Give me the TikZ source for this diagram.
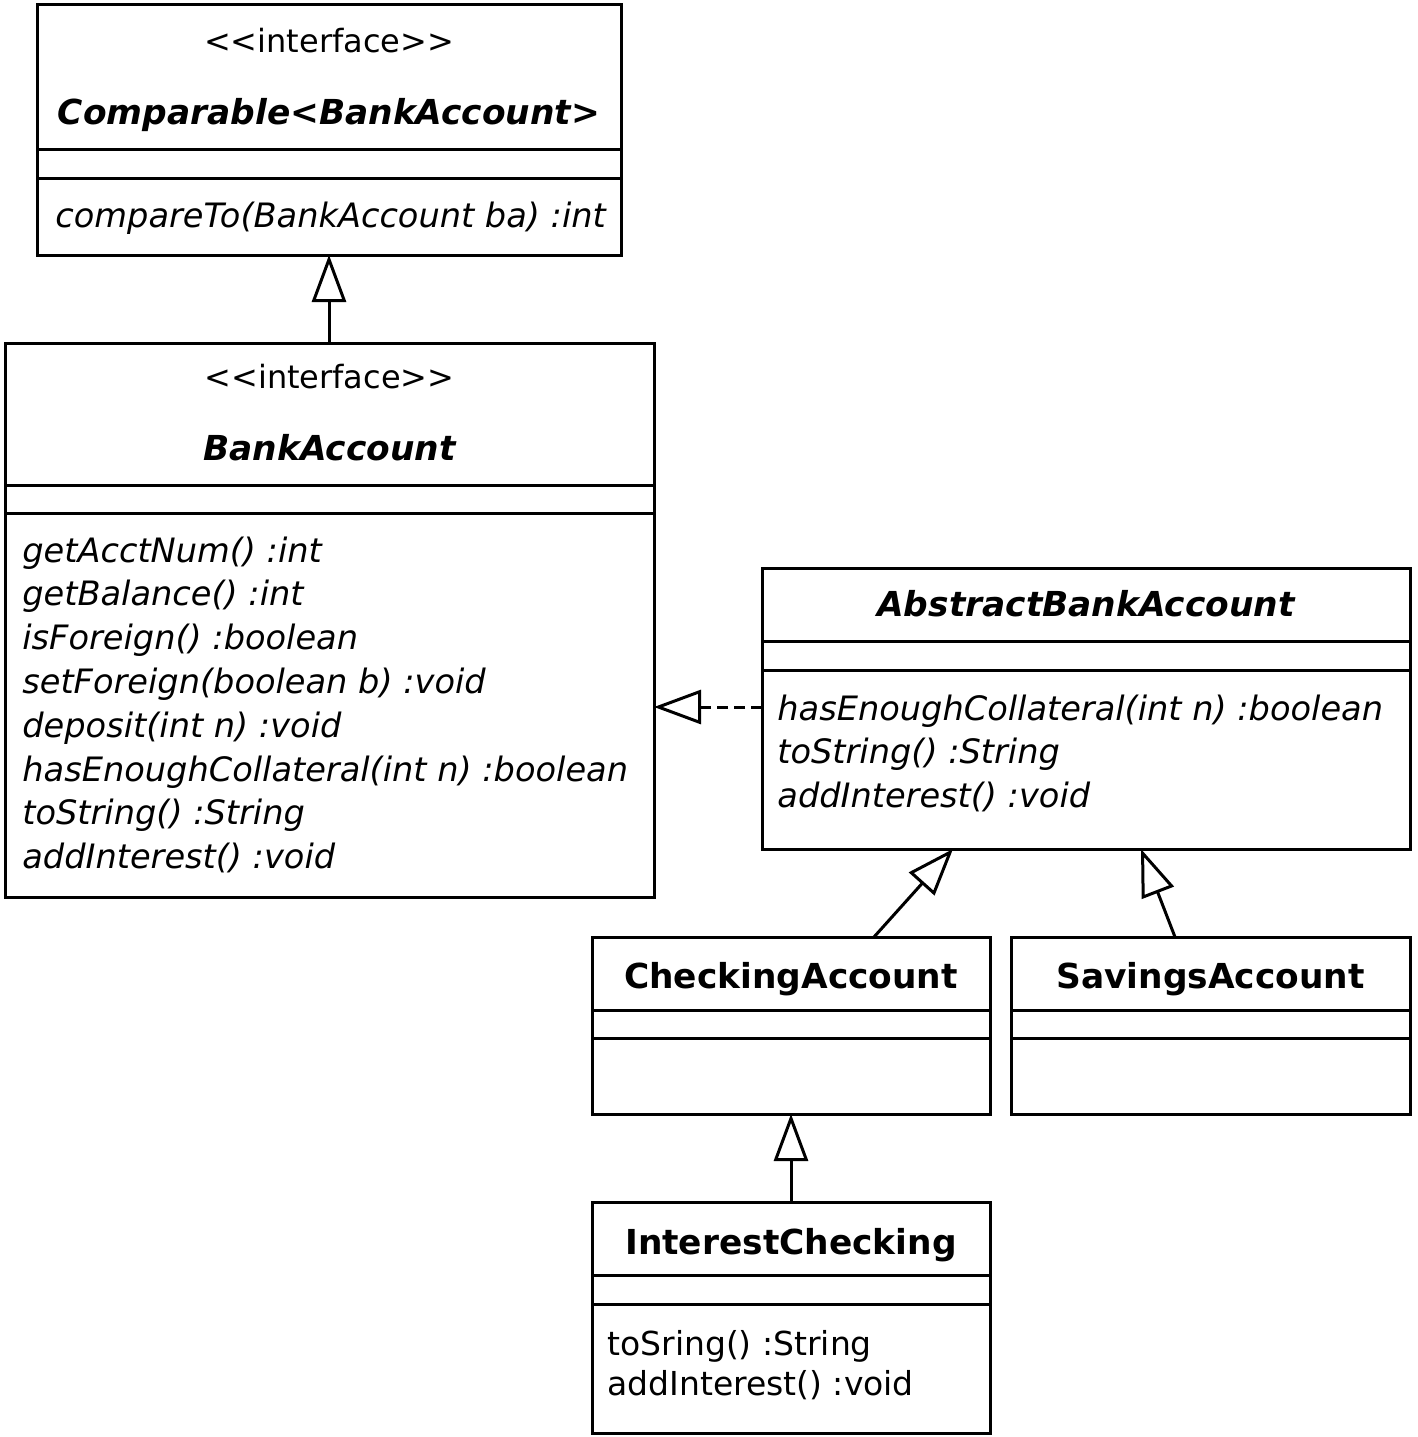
\documentclass[tikz,border=0pt]{standalone}
\usepackage{fontspec}
\setmainfont{DejaVu Sans}[ItalicFont={DejaVu Sans Oblique},BoldFont={DejaVu Sans Bold},BoldItalicFont={DejaVu Sans Bold Oblique}]
\usetikzlibrary{arrows.meta}
\begin{document}
\begin{tikzpicture}[x=0.5pt,y=-0.5pt,
  cls/.style={draw,line width=1.5pt,inner sep=0pt,outer sep=0pt,anchor=north west},
  sepline/.style={line width=1.5pt},
  stereo/.style={font=\fontsize{16pt}{19pt}\selectfont,anchor=base,inner sep=0pt},
  ttl/.style={font=\fontsize{17.2pt}{20pt}\selectfont\bfseries\itshape,anchor=base,inner sep=0pt},
  ttlr/.style={font=\fontsize{17.2pt}{20pt}\selectfont\bfseries,anchor=base,inner sep=0pt},
  meth/.style={font=\fontsize{16.8pt}{20pt}\selectfont\itshape,anchor=base west,inner sep=0pt},
  methr/.style={font=\fontsize{16.5pt}{20pt}\selectfont,anchor=base west,inner sep=0pt},
  gen/.style={line width=1.5pt,-{Triangle[open,length=23.5pt,width=17pt]}},
  real/.style={gen,dash pattern=on 5.5pt off 3pt}]
\fill[white] (0,0) rectangle (1418,1437);
\useasboundingbox (0,0) rectangle (1418,1437);

% Comparable
\node[cls,minimum width=292pt,minimum height=125.5pt] (cmp) at (37,4) {};
\draw[sepline] (cmp.west |- 0,149) -- (cmp.east |- 0,149);
\draw[sepline] (cmp.west |- 0,178) -- (cmp.east |- 0,178);
\node[stereo] (cmpst) at (329,52) {{<}{<}interface{>}{>}};
\node[ttl] (cmpt) at (329,124) {Comparable{<}BankAccount{>}};
\node[meth] (cmpm) at (55,227) {compareTo(BankAccount ba) :int};

% BankAccount
\node[cls,minimum width=324.5pt,minimum height=277pt] (ba) at (5,343) {};
\draw[sepline] (ba.west |- 0,485) -- (ba.east |- 0,485);
\draw[sepline] (ba.west |- 0,513) -- (ba.east |- 0,513);
\node[stereo] (bast) at (329.5,388) {{<}{<}interface{>}{>}};
\node[ttl] (bat) at (329.5,460) {BankAccount};
\foreach \t [count=\i] in {getAcctNum() :int,getBalance() :int,isForeign() :boolean,setForeign(boolean b) :void,deposit(int n) :void,hasEnoughCollateral(int n) :boolean,toString() :String,addInterest() :void}
  \node[meth] (bam\i) at (22,{562+43.8*(\i-1)}) {\t};

% AbstractBankAccount
\node[cls,minimum width=324pt,minimum height=140.5pt] (aba) at (762,568) {};
\draw[sepline] (aba.west |- 0,641) -- (aba.east |- 0,641);
\draw[sepline] (aba.west |- 0,670) -- (aba.east |- 0,670);
\node[ttl] (abat) at (1086,616) {AbstractBankAccount};
\foreach \t [count=\i] in {hasEnoughCollateral(int n) :boolean,toString() :String,addInterest() :void}
  \node[meth] (abam\i) at (777,{720+43.8*(\i-1)}) {\t};

% CheckingAccount
\node[cls,minimum width=199pt,minimum height=88.5pt] (ca) at (592,937) {};
\draw[sepline] (ca.west |- 0,1010) -- (ca.east |- 0,1010);
\draw[sepline] (ca.west |- 0,1038) -- (ca.east |- 0,1038);
\node[ttlr] (cat) at (791,988) {CheckingAccount};

% SavingsAccount
\node[cls,minimum width=199.5pt,minimum height=88.5pt] (sa) at (1011,937) {};
\draw[sepline] (sa.west |- 0,1010) -- (sa.east |- 0,1010);
\draw[sepline] (sa.west |- 0,1038) -- (sa.east |- 0,1038);
\node[ttlr] (sat) at (1210.5,988) {SavingsAccount};

% InterestChecking
\node[cls,minimum width=199pt,minimum height=115.5pt] (ic) at (592,1202) {};
\draw[sepline] (ic.west |- 0,1275) -- (ic.east |- 0,1275);
\draw[sepline] (ic.west |- 0,1304) -- (ic.east |- 0,1304);
\node[ttlr] (ict) at (791,1254) {InterestChecking};
\node[methr] (icm1) at (607,1355) {toSring() :String};
\node[methr] (icm2) at (607,1395) {addInterest() :void};

% connectors
\draw[gen] (ba.north -| cmp.south) -- (cmp.south);
\draw[real] (aba.west |- 0,707) -- (ba.east |- 0,707);
\draw[gen] (874,0 |- ca.north) -- (953,0 |- aba.south);
\draw[gen] (1175,0 |- sa.north) -- (1141,0 |- aba.south);
\draw[gen] (ic.north) -- (ca.south);
\end{tikzpicture}
\end{document}
